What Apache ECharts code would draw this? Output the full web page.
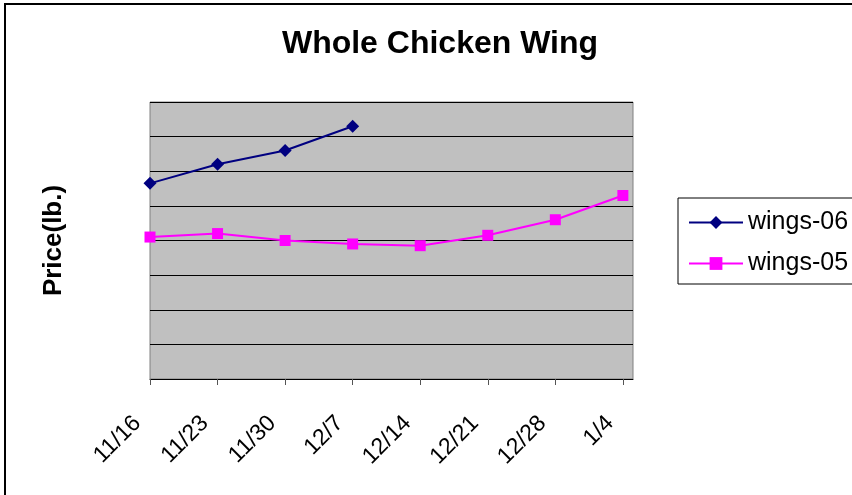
<!DOCTYPE html>
<html>
<head>
<meta charset="utf-8">
<script src="https://cdn.jsdelivr.net/npm/echarts@6/dist/echarts.min.js"></script>
<style>
  html, body { margin: 0; padding: 0; background: #fff; }
  #main { width: 852px; height: 495px; }
</style>
</head>
<body>
<div id="main"></div>
<script>
// 横轴日期
var weeks = ['11/16', '11/23', '11/30', '12/7', '12/14', '12/21', '12/28', '1/4'];
// 价格 (每磅)
var wings06 = [1.13, 1.24, 1.32, 1.46];
var wings05 = [0.82, 0.84, 0.80, 0.78, 0.77, 0.83, 0.92, 1.06];

var font = 'Arial, "Liberation Sans", sans-serif';

function toPoints(arr){
    var pts = [];
    arr.forEach(function(v, i){
        pts.push([i, v]);
    });
    return pts;
}
var tickIdx = weeks.map(function(w, i){ return i; });

var myChart = echarts.init(document.getElementById('main'));

var option = {
    backgroundColor: '#ffffff',
    animation: false,
    graphic: [{
        type: 'rect',
        shape: { x: 5, y: 4, width: 1000, height: 1000 },
        style: { fill: 'none', stroke: '#000', lineWidth: 2 },
        silent: true
    }],
    title: {
        text: 'Whole Chicken Wing',
        left: 435,
        top: 23,
        textAlign: 'center',
        textStyle: { fontFamily: font, fontSize: 32, fontWeight: 'bold', color: '#000' }
    },
    legend: {
        orient: 'vertical',
        left: 678,
        top: 198,
        padding: [12, 10, 8, 10],
        itemGap: 16,
        itemWidth: 54,
        itemHeight: 16,
        borderColor: '#000',
        borderWidth: 1,
        textStyle: { fontFamily: font, fontSize: 25, color: '#000' },
        data: ['wings-06', 'wings-05']
    },
    grid: {
        left: 150,
        right: 219,
        top: 102,
        bottom: 116,
        show: true,
        backgroundColor: '#c0c0c0',
        borderColor: '#808080',
        borderWidth: 1
    },
    xAxis: {
        type: 'value',
        min: 0,
        max: 7.15,
        interval: 1,
        axisLine: { show: true, lineStyle: { color: '#000', width: 1 } },
        axisTick: { show: true, length: 6, lineStyle: { color: '#555' }, customValues: tickIdx },
        splitLine: { show: false },
        axisLabel: {
            customValues: tickIdx,
            rotate: 45,
            margin: 28,
            padding: [0, 18, 0, 0],
            fontFamily: font,
            fontSize: 23,
            color: '#000',
            formatter: function(v){ return weeks[Math.round(v)]; }
        }
    },
    yAxis: {
        type: 'value',
        min: 0,
        max: 1.6,
        interval: 0.2,
        name: 'Price(lb.)',
        nameLocation: 'middle',
        nameGap: 83,
        nameTextStyle: { fontFamily: font, fontSize: 26, fontWeight: 'bold', color: '#000' },
        axisLine: { show: false },
        axisTick: { show: false },
        axisLabel: { show: false },
        splitLine: { show: true, lineStyle: { color: '#000', width: 1 } }
    },
    series: [{
        name: 'wings-06',
        type: 'line',
        data: toPoints(wings06),
        symbol: 'diamond',
        symbolSize: 13,
        itemStyle: { color: '#000080' },
        lineStyle: { color: '#000080', width: 2 }
    }, {
        name: 'wings-05',
        type: 'line',
        data: toPoints(wings05),
        symbol: 'rect',
        symbolSize: 11,
        itemStyle: { color: '#ff00ff' },
        lineStyle: { color: '#ff00ff', width: 2 }
    }]
};

myChart.setOption(option);
</script>
</body>
</html>
